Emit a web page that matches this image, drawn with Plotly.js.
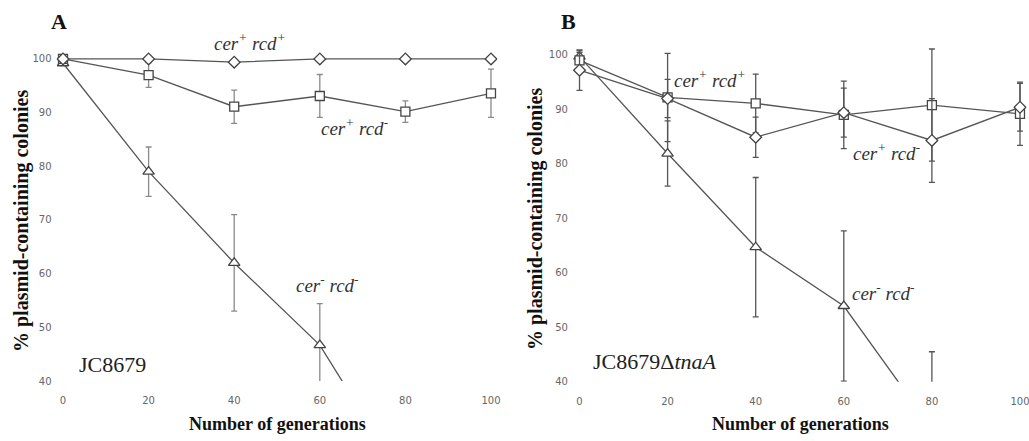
<!DOCTYPE html>
<html>
<head>
<meta charset="utf-8">
<script src="https://cdn.plot.ly/plotly-3.0.1.min.js"></script>
<style>
  html, body { margin: 0; padding: 0; background: #ffffff; }
  #chart { width: 1029px; height: 441px; }
</style>
</head>
<body>
<div id="chart"></div>
<script>
// ---------- data ----------
const generations = [0, 20, 40, 60, 80, 100];

// Panel A: JC8679
const A_cerPlus_rcdPlus      = [100, 100, 99.4, 100, 100, 100];
const A_cerPlus_rcdMinus     = [100, 97.0, 91.1, 93.1, 90.2, 93.6];
const A_cerPlus_rcdMinus_err = [0, 2.3, 3.1, 4.0, 2.0, 4.5];
const A_cerMinus_rcdMinus     = [99.2, 79.0, 62.0, 46.7, 21.0];
const A_cerMinus_rcdMinus_err = [0, 4.6, 9.0, 7.7, 0];

// Panel B: JC8679ΔtnaA
const B_cerPlus_rcdPlus      = [97.2, 92.0, 84.9, 89.4, 84.3, 90.4];
const B_cerPlus_rcdPlus_err  = [3.7, 3.5, 3.7, 4.5, 7.7, 4.4];
const B_cerPlus_rcdMinus     = [99.0, 92.2, 91.1, 89.0, 90.8, 89.2];
const B_cerPlus_rcdMinus_err = [1.5, 8.1, 5.4, 6.2, 10.3, 5.8];
const B_cerMinus_rcdMinus     = [99.7, 81.9, 64.7, 53.9, 31.4];
const B_cerMinus_rcdMinus_err = [1.2, 6.0, 12.8, 13.8, 14.1];

const xTicks = [0, 20, 40, 60, 80, 100];
const yTicks = [40, 50, 60, 70, 80, 90, 100];

const panelLetters = ['A', 'B'];
const strainLabels = ['JC8679', 'JC8679Δ<i>tnaA</i>'];
const xTitle = 'Number of generations';
const yTitle = '% plasmid-containing colonies';

// ---------- styling ----------
const lineCol = '#555555';
const markerLine = '#444444';
const serif = 'Liberation Serif, Times New Roman, serif';
const W = 1029, H = 441;

function series(x, y, err, symbol, xa, ya, errCol, name) {
  const t = {
    type: 'scatter', mode: 'lines+markers', name: name,
    x: x.slice(0, y.length), y: y, xaxis: xa, yaxis: ya,
    line: { color: lineCol, width: 1.3 },
    marker: { symbol: symbol, size: symbol === 'triangle-up' ? 10 : 9, color: '#ffffff',
              line: { color: markerLine, width: 1.3 } },
    cliponaxis: true, showlegend: false
  };
  if (err) {
    t.error_y = { type: 'data', array: err, visible: true, color: errCol, thickness: 1.3, width: 3 };
  }
  return t;
}

const errA = '#8a8a8a', errB = '#555555';
const data = [
  series(generations, A_cerMinus_rcdMinus, A_cerMinus_rcdMinus_err, 'triangle-up', 'x', 'y', errA, 'cer- rcd-'),
  series(generations, A_cerPlus_rcdMinus, A_cerPlus_rcdMinus_err, 'square', 'x', 'y', errA, 'cer+ rcd-'),
  series(generations, A_cerPlus_rcdPlus, null, 'diamond', 'x', 'y', errA, 'cer+ rcd+'),
  series(generations, B_cerMinus_rcdMinus, B_cerMinus_rcdMinus_err, 'triangle-up', 'x2', 'y2', errB, 'cer- rcd-'),
  series(generations, B_cerPlus_rcdMinus, B_cerPlus_rcdMinus_err, 'square', 'x2', 'y2', errB, 'cer+ rcd-'),
  series(generations, B_cerPlus_rcdPlus, B_cerPlus_rcdPlus_err, 'diamond', 'x2', 'y2', errB, 'cer+ rcd+')
];

const tickFont = { family: 'DejaVu Sans, Verdana, sans-serif', size: 10, color: '#666666' };
function xAxis(domain, anchor) {
  return {
    domain: domain, anchor: anchor, range: [-1.5, 101.5],
    tickvals: xTicks, ticks: 'outside', ticklen: 10, tickcolor: 'rgba(0,0,0,0)',
    ticklabeloverflow: 'allow',
    showgrid: false, zeroline: false, showline: false, tickfont: tickFont
  };
}
function yAxis(domain, anchor) {
  return {
    domain: domain, anchor: anchor, range: [40, 101.5],
    tickvals: yTicks, ticks: 'outside', ticklen: 2, tickcolor: 'rgba(0,0,0,0)',
    ticklabeloverflow: 'allow',
    showgrid: false, zeroline: false, showline: false, tickfont: tickFont
  };
}

function ital(s) { return '<i>' + s + '</i>'; }
function px(x, y) { return [x / W, 1 - y / H]; }

const ann = [];
function addAt(text, xpx, ypx, size, color, angle) {
  const p = px(xpx, ypx);
  ann.push({ text: text, x: p[0], y: p[1], xref: 'paper', yref: 'paper', showarrow: false,
             xanchor: 'center', yanchor: 'middle', textangle: angle || 0,
             font: { family: serif, size: size, color: color } });
}
// panel letters
addAt('<b>' + panelLetters[0] + '</b>', 59, 21, 22, '#111111');
addAt('<b>' + panelLetters[1] + '</b>', 568, 21, 22, '#111111');
// axis titles
addAt('<b>' + xTitle + '</b>', 277, 424, 18, '#111111');
addAt('<b>' + xTitle + '</b>', 800, 424, 18, '#111111');
addAt('<b>' + yTitle + '</b>', 22, 221, 20, '#111111', -90);
addAt('<b>' + yTitle + '</b>', 535, 219, 20, '#111111', -90);
// series labels
addAt(ital('cer<sup>+</sup> rcd<sup>+</sup>'), 250, 42, 19, '#333333');
addAt(ital('cer<sup>+</sup> rcd<sup>-</sup>'), 354, 127, 19, '#333333');
addAt(ital('cer<sup>-</sup> rcd<sup>-</sup>'), 327, 284, 19, '#333333');
addAt(strainLabels[0], 112, 364, 22, '#222222');
addAt(ital('cer<sup>+</sup> rcd<sup>+</sup>'), 710, 79, 19, '#333333');
addAt(ital('cer<sup>+</sup> rcd<sup>-</sup>'), 886, 152, 19, '#333333');
addAt(ital('cer<sup>-</sup> rcd<sup>-</sup>'), 883, 292, 19, '#333333');
addAt(strainLabels[1], 655, 361, 22, '#222222');

const layout = {
  width: W, height: H,
  margin: { l: 0, r: 0, t: 0, b: 0 },
  paper_bgcolor: '#ffffff', plot_bgcolor: '#ffffff',
  xaxis: xAxis([56.6 / W, 497.4 / W], 'y'),
  yaxis: yAxis([1 - 381 / H, 1 - 50.9 / H], 'x'),
  xaxis2: xAxis([572.9 / W, 1026.6 / W], 'y2'),
  yaxis2: yAxis([1 - 381.7 / H, 1 - 46.8 / H], 'x2'),
  annotations: ann,
  showlegend: false
};

Plotly.newPlot('chart', data, layout, { displayModeBar: false, staticPlot: true });
</script>
</body>
</html>
